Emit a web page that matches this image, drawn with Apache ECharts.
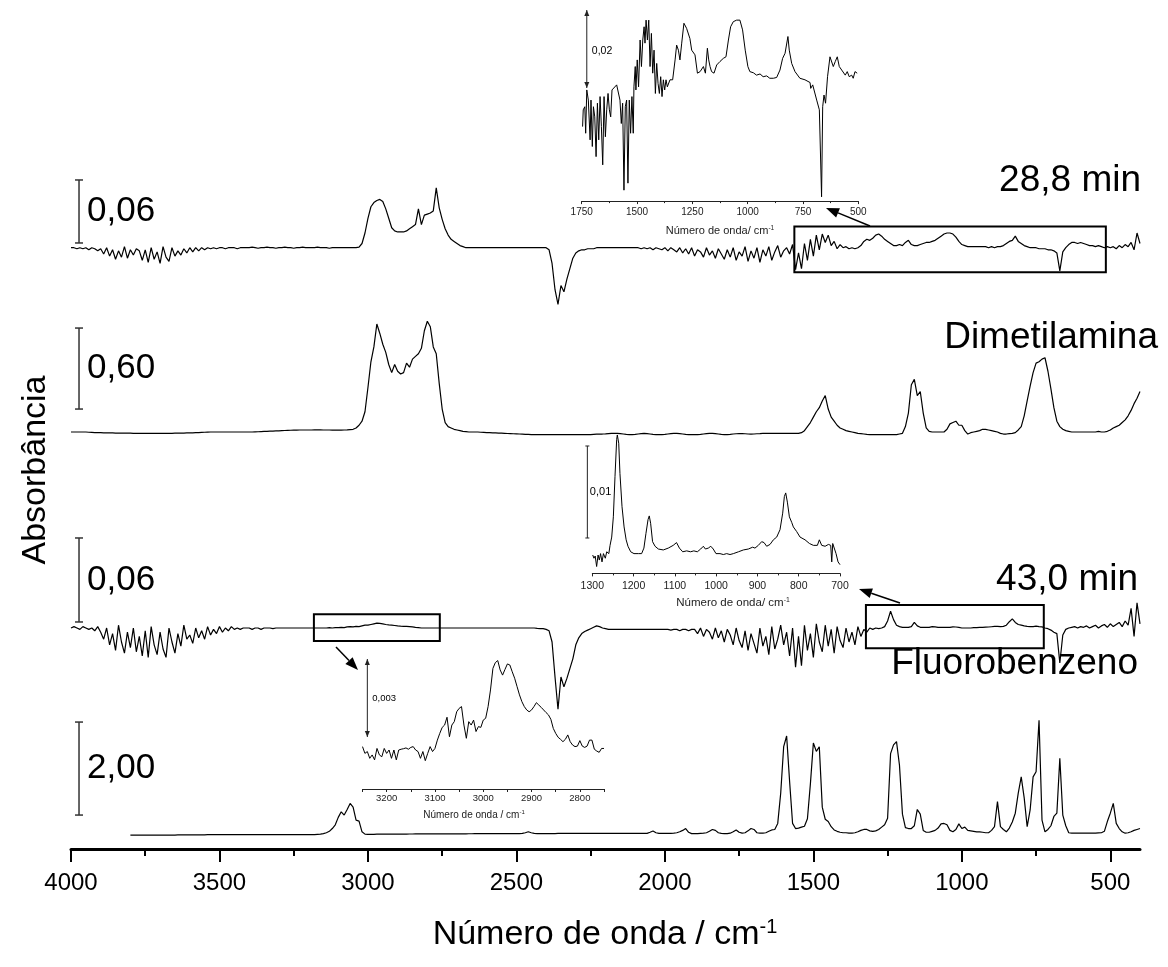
<!DOCTYPE html>
<html>
<head>
<meta charset="utf-8">
<title>FTIR - Absorbância</title>
<script src="https://cdn.jsdelivr.net/npm/echarts@6/dist/echarts.min.js"></script>
<style>
  html, body { margin: 0; padding: 0; background: #fff; }
  #chart { width: 1168px; height: 967px; }
</style>
</head>
<body>
<div id="chart"></div>
<script>
'use strict';

// Main spectra: one value every 10 cm-1, from the start wavenumber down to 400 cm-1
const STEP = 10;

// 28,8 min (units of 0.001 absorbance)
const start288 = 4000;
const abs288 = [
  0, 0, -1, 0, -1, 0, -2, 0, -1, -3,
  -1, -6, 0, -8, -2, -11, -3, -9, 1, -10,
  -2, -7, -1, -3, -12, -2, -14, 0, -11, -4,
  -15, 1, -9, -13, 0, -8, -3, -7, -1, -5,
  0, -4, 0, -3, 0, -2, 0, -1, 0, -1,
  0, 0, -1, 0, 0, 0, -1, 0, 0, 0,
  0, 0.5, 0, -0.5, 0, 0, 0.5, 0, 0, -0.5,
  0, 0, 0.5, 0, 0, -0.5, 0, 0, 0.5, 0,
  0, 0, 0, 0.5, 0, 0, 0, -0.5, 0, 0,
  0, 0, 0, 0, 0, 0, 0, 0.5, 4, 14,
  28, 39, 43, 45, 46, 44, 37, 28, 19, 16,
  15, 15, 15, 16, 18, 20, 22, 37, 22, 31,
  32, 33, 35, 57, 38, 27, 18, 12, 8, 6,
  4, 2, 1, 0, 0, 0, 0, 0, 0, 0,
  0, 0, 0, 0, 0, 0, 0, 0, 0, 0,
  0, 0, 0, 0, 0, 0, 0, 0, 0, 0,
  0, -2, -15, -40, -54, -36, -42, -30, -20, -10,
  -5, -3, -2, -2, -1, -1, -1, 0, 0, 0,
  0, 0, 0, 0, 0, 0, 0, 0, 0, 0,
  0, 0, -1, 0, -1, 0, -2, 0, -1, -2,
  0, -3, 0, -2, -4, 0, -5, -1, -6, 0,
  -8, -2, -4, -9, 0, -7, -3, -10, -1, -6,
  -11, -2, -9, 0, -12, -4, -8, 1, -13, -3,
  -10, 0, -14, -2, -8, 1, -12, -4, 2, -9,
  -3, 0, -6, 3, -21, -5, -20, 4, -12, 8,
  -8, 12, -2, 13, 5, 12, 2, 6, -1, 3,
  0, 1, -1, 0, -1, 0, 2, 6, 8, 7,
  9, 12, 13, 11, 8, 6, 4, 2, 2, 3,
  2, 5, 7, 3, 2, 2, 3, 4, 5, 5,
  6, 7, 9, 11, 13, 14, 14, 13, 10, 6,
  3, 2, 1, 1, 1, 1, 1, 1, 1, 0,
  1, 0, 1, 1, 2, 4, 6, 7, 11, 6,
  4, 2, 1, 0, 0, 0, -1, -1, -1, -2,
  -2, -3, -5, -22, -4, 0, 3, 5, 5, 4,
  5, 4, 3, 2, 2, 1, 2, 1, 0, 1,
  0, 1, -1, 2, 0, 3, 1, 5, -2, 14,
  4
];

// Dimetilamina (units of 0.01 absorbance)
const startDma = 4000;
const absDma = [
  0, 0, 0, 0, 0, 0, -0.2, -0.3, -0.4, -0.5,
  -0.5, -0.6, -0.6, -0.7, -0.7, -0.8, -0.8, -0.8, -0.9, -0.9,
  -0.9, -1, -1, -1, -1, -1, -1, -1, -1, -1,
  -1, -1, -1, -1, -1, -0.9, -0.9, -0.8, -0.8, -0.7,
  -0.7, -0.6, -0.5, -0.4, -0.3, -0.2, -0.1, 0, 0, 0,
  0, 0, 0, 0, 0, 0, 0, 0, 0, 0,
  0, 0, 0.1, 0.2, 0.3, 0.4, 0.5, 0.6, 0.7, 0.8,
  0.9, 1, 1.1, 1.2, 1.3, 1.4, 1.4, 1.5, 1.5, 1.5,
  1.5, 1.5, 1.6, 1.6, 1.6, 1.5, 1.5, 1.5, 1.4, 1.4,
  1.4, 1.4, 1.5, 1.6, 1.8, 2, 3, 5, 8, 15,
  33, 52, 63, 80, 73, 65, 59, 50, 44, 50,
  45, 43, 44, 51, 48, 54, 56, 58, 62, 75,
  82, 78, 63, 58, 36, 17, 7, 4, 3, 2,
  1.5, 1, 0.5, 0.3, 0, 0, 0, 0, -0.2, -0.3,
  -0.4, -0.5, -0.6, -0.7, -0.8, -0.9, -1, -1.1, -1.2, -1.3,
  -1.4, -1.5, -1.6, -1.7, -1.8, -1.9, -2, -2, -2, -2,
  -2, -2, -2, -2, -2, -2, -2, -2, -2, -2,
  -2, -2, -2, -2, -2, -2, -1.8, -1.6, -1.5, -1.5,
  -1.4, -1.2, -1, -1, -1, -1.2, -1.5, -1.8, -2, -2,
  -1.8, -1.5, -1.2, -1, -1.2, -1.5, -1.8, -2, -2, -2,
  -1.8, -1.5, -1.2, -1, -1, -1.2, -1.5, -1.8, -2, -2,
  -2, -2, -1.8, -1.5, -1.2, -1, -1, -1.2, -1.5, -1.8,
  -2, -2, -1.8, -1.5, -1.3, -1.2, -1.2, -1.3, -1.5, -1.6,
  -1.5, -1.3, -1.2, -1, -1, -1, -1, -1, -1, -1,
  -1, -1, -1, -1, -1, -1, -0.5, 1, 4, 7,
  11, 15, 18, 23, 27, 17, 11, 8, 5, 3,
  2, 1, 0.5, 0, -0.5, -1, -1.2, -1.5, -1.8, -2,
  -2, -2, -2, -2, -2, -2, -2, -2, -2, -1.5,
  -1, 4, 14, 35, 39, 27, 30, 14, 3, 0.5,
  0, 0, 0, 0, 0, 2, 6, 7, 8, 5,
  5, 1, -1.5, -0.5, 0, 0.5, 1, 2, 2, 1.5,
  1, 0.5, 0, -1, -1.5, -1.5, -1.2, -1, -0.5, 1.5,
  4, 12, 23, 34, 44, 51, 52, 54, 55, 45,
  32, 18, 8, 4, 2, 1, 0.5, 0, 0, 0,
  0, 0, 0, 0, 0, 0, 0.5, 0, 0, 0.5,
  1.5, 3, 4, 5, 7, 9, 12, 16, 21, 25,
  30
];

// 43,0 min (units of 0.001 absorbance)
const start430 = 4000;
const abs430 = [
  0, 1, 0, -1, 1, 0, -1, 0, -2, 1,
  -3, -8, 0, -12, -4, -16, 2, -10, -18, -3,
  -14, 0, -17, -6, -20, -2, -21, 1, -12, -19,
  -3, -15, -21, 0, -10, -18, -4, -13, 2, -8,
  -5, -11, 0, -7, -2, -8, 1, -5, -1, -4,
  1, -3, 0, -2, 1, -1, 0, -1, 0, 0,
  0, -1, 0, 0, -1, 0, 0, 0, -0.5, 0,
  0, 0, 0, 0, 0, 0, 0, 0, 0, 0,
  0, 0, 0, 0, 0, 0, 0, 0.2, 0, 0.3,
  0.3, 0.5, 0.3, 0.8, 1, 0.8, 1.2, 1, 1.5, 2,
  2, 2.5, 3, 3.5, 3.3, 3, 2.5, 2.2, 2, 1.8,
  1.5, 1.3, 1.2, 1.2, 1, 0.8, 0.5, 0.3, 0, 0,
  0, 0, 0, 0, 0, 0, 0, 0, 0, 0,
  0, 0, 0, 0, 0, 0, 0, 0, 0, 0,
  0, 0, 0, 0, 0, 0, 0, 0, 0, 0,
  0, 0, 0, 0, 0, 0, 0, -0.3, -0.5, -0.5,
  -1, -2, -10, -35, -58, -35, -42, -36, -29, -22,
  -12, -7, -4, -2.5, -1.5, -0.5, 0.5, 1.5, 1, 0,
  -0.5, -1, -1, -1, -1, -1, -1, -1, -1, -1,
  -1, -1, -1, -1, -1, -1, -1, -1, -1, -1,
  -1, -1, -1.5, -1, -1, -2, -1, -1, -2, -1,
  -1, -4, 0, -6, -1, -3, -8, 0, -7, -2,
  -10, -1, -5, -12, 0, -9, -14, -2, -16, -4,
  -11, -18, 0, -13, -6, -19, 1, -15, -8, 2,
  -12, -3, -20, 0, -28, -6, -27, 2, -16, -4,
  -21, 3, -10, -17, 2, -13, -1, -18, 1, -9,
  -14, 0, -10, -3, -12, 1, -6, -1, -3, 0,
  -1, 0, -0.5, 0, 1, 5, 12, 6, 2, 1,
  0.5, 0.5, 0.5, 1, 4, 1.5, 0.5, 0.5, 0.5, 0.5,
  1, 0.8, 0.5, 0.5, 0.5, 0.5, 0.5, 0.8, 0.7, 0.5,
  0, 0, 0, 0, 0.2, 0.3, 0.4, 0.5, 0.6, 0.7,
  0.9, 1.1, 1.1, 1, 1.2, 2, 4.5, 6.5, 4, 2.5,
  2, 1.5, 1.2, 1, 1, 1.3, 1, 0.8, 0, -0.5,
  -1.5, -3, -4, -25, -5, -1, 0, 0.5, 1, 0,
  1, 0.5, 1.5, 0, 1, 2, 0, 1.5, 2.5, 0.5,
  3, 1, 2.5, 4, 1, 5, 2, 14, -6, 18,
  3
];

// Fluorobenzeno (units of 0.01 absorbance), starts at 3800 cm-1
const startFb = 3800;
const absFb = [
  0, 0, 0, 0, 0, 0, 0, 0, 0, 0,
  0, 0, 0, 0, 0, 0, 0.3, 0.3, 0.5, 0.5,
  0.5, 0.5, 0.5, 0.5, 0.5, 0.5, 0.7, 0.7, 0.7, 0.7,
  0.8, 0.8, 0.8, 0.9, 0.9, 0.9, 1, 1, 1, 1,
  1, 1, 1, 1, 1, 1, 1, 1, 1, 1,
  1, 1, 1, 1, 1, 1, 1, 1, 1, 1,
  1, 1, 1, 1.5, 2, 3, 5, 8, 14, 22,
  38, 50, 43, 55, 68, 60, 32, 30, 7, 2,
  1.5, 1.5, 1.5, 2, 2, 2, 2, 2, 2, 2,
  2, 2, 2.2, 2.2, 2.3, 2.3, 2.4, 2.4, 2.5, 2.5,
  2.5, 2.5, 2.5, 2.5, 2.5, 2.5, 2.5, 2.5, 2.5, 2.5,
  2.6, 2.6, 2.7, 2.7, 2.8, 2.8, 2.9, 2.9, 3, 3,
  3, 3, 3, 3, 3, 3, 3, 3, 3, 3,
  3, 3, 3.5, 5, 7, 5, 3.5, 3, 3, 3,
  3, 3, 3.2, 3.2, 3.4, 3.4, 3.5, 3.5, 3.5, 3.5,
  3.6, 3.6, 3.6, 3.6, 3.6, 3.6, 3.6, 3.6, 3.6, 3.6,
  3.6, 3.6, 3.6, 3.6, 3.6, 3.6, 3.6, 3.6, 3.6, 3.6,
  3.6, 3.6, 3.6, 3.6, 3.6, 6, 8.6, 5, 3.6, 3.6,
  3.6, 3.6, 3.6, 4, 5, 7, 10, 14, 6, 3,
  3, 3, 3.5, 4, 5, 8, 12, 10, 5, 3.5,
  3, 3, 4, 7, 11, 6, 4, 5, 9, 14,
  12, 5, 4, 4, 5, 8, 11, 12, 25, 90,
  190, 213, 115, 25, 14, 15, 17, 19, 35, 110,
  198, 180, 190, 60, 34, 29, 18, 11, 8, 6,
  5, 5, 4, 4, 5, 7, 10, 12, 12, 9,
  8, 9, 12, 17, 22, 36, 175, 194, 201, 150,
  45, 16, 14, 14, 20, 55, 45, 10, 6, 6,
  8, 10, 15, 24, 25, 22, 10, 7, 12, 24,
  14, 17, 10, 9, 8, 7, 7, 6, 5, 5,
  10, 18, 72, 18, 12, 7, 15, 28, 47, 90,
  125, 80, 18, 54, 125, 136, 247, 32, 7, 12,
  20, 40, 47, 165, 43, 20, 5, 4, 4, 4,
  4, 4, 4, 4, 4, 4, 4.5, 5, 8, 29,
  47, 68, 25, 14, 7, 4, 5, 7, 10, 12,
  14
];

// Inset 28,8 min, 1750-500 cm-1: [wavenumber, 0.001 absorbance]
const inset288 = [
  [1746, -9.9], [1743, -5.6], [1736, -4.8], [1732, -11.6], [1727, -0.5], [1720, -3.1],
  [1712, -13.3], [1708, -3.1], [1702, -15.0], [1697, -4.8], [1691, -7.4], [1685, -17.6],
  [1679, -3.9], [1673, -13.3], [1667, -2.2], [1661, -9.9], [1655, -19.7], [1649, -2.2],
  [1643, -12.5], [1637, -5.6], [1631, -1.4], [1625, -5.6], [1619, -7.4], [1613, -0.5],
  [1604, -0.1], [1592, 0.8], [1583, 0.3], [1577, -3.1], [1571, -9.1], [1565, -3.9],
  [1559, -26.2], [1553, -4.8], [1547, -3.1], [1541, -24.4], [1535, -3.1], [1529, -11.6],
  [1523, -2.2], [1517, -11.6], [1514, 0.3], [1508, 5.5], [1505, -0.5], [1499, 7.2],
  [1493, 0.3], [1486, 12.3], [1480, 5.5], [1474, 12.3], [1468, 15.7], [1464, 11.5],
  [1459, 17.4], [1453, 12.3], [1447, 17.4], [1441, 5.5], [1435, 14.0], [1429, 3.8],
  [1423, 9.7], [1417, -1.4], [1411, 6.3], [1405, 1.2], [1399, -1.4], [1393, 2.9],
  [1387, -2.2], [1381, 2.1], [1375, -0.5], [1369, 2.1], [1363, 0.3], [1351, 2.1],
  [1339, 2.1], [1328, 7.2], [1321, 11.0], [1313, 9.7], [1306, 7.2], [1298, 11.5],
  [1288, 16.6], [1276, 15.3], [1261, 12.7], [1253, 9.7], [1246, 10.2], [1238, 8.5],
  [1227, 3.8], [1215, 4.2], [1200, 5.5], [1191, 3.8], [1182, 10.2], [1176, 7.2],
  [1170, 5.5], [1163, 4.2], [1152, 3.8], [1140, 5.9], [1125, 6.8], [1110, 7.6],
  [1098, 8.0], [1087, 12.3], [1077, 15.7], [1065, 17.0], [1050, 17.4], [1035, 17.4],
  [1023, 14.9], [1011, 9.7], [999, 5.5], [990, 4.2], [974, 3.9], [960, 3.3], [944, 3.6],
  [930, 2.9], [914, 3.1], [900, 2.5], [884, 2.5], [869, 2.7], [854, 4.6], [842, 7.6],
  [831, 8.9], [824, 8.9], [818, 13.2], [812, 9.7], [801, 6.3], [786, 4.2], [764, 2.5],
  [741, 2.1], [718, 1.4], [715, -0.1], [706, 0.8], [688, -3.1], [676, -5.6], [670, -5.2],
  [666, -27.9], [661, -4.8], [655, -1.8], [648, -3.9], [639, 2.9], [628, 8.0], [620, 8.5],
  [613, 5.5], [604, 6.8], [595, 8.0], [586, 5.5], [575, 4.6], [568, 4.2], [559, 3.3],
  [550, 4.2], [541, 2.9], [530, 3.3], [523, 2.5], [515, 4.2], [505, 3.8]
];

// Inset 43,0 min, 1300-700 cm-1: [wavenumber, 0.001 absorbance]
const inset430a = [
  [1299, -1.85], [1296, -2.2], [1293, -1.96], [1289.5, -3.1], [1286, -1.85], [1283, -2.4],
  [1280, -1.7], [1276.5, -2.6], [1273, -1.7], [1268.5, -2.2], [1265, -1.5], [1260, -1.7],
  [1257, -0.8], [1253, 0.1], [1249, 2.3], [1245, 6.7], [1241, 10.7], [1239.4, 11.2],
  [1236, 10.3], [1233, 7.0], [1228, 3.4], [1223, 1.2], [1218, -0.2], [1213.6, -0.9],
  [1207, -1.5], [1199, -1.7], [1188.5, -1.7], [1180.5, -1.7], [1175, -1.1], [1170, 0.5],
  [1165, 2.0], [1162, 2.4], [1158.7, 1.6], [1154, -0.4], [1148, -0.9], [1140, -1.2],
  [1128, -1.3], [1116, -1.1], [1104, -0.8], [1096, -0.5], [1089, -1.1], [1081, -1.5],
  [1071.4, -1.4], [1062, -1.5], [1054, -1.4], [1045.6, -1.5], [1037.5, -1.2], [1031, -0.9],
  [1026, -1.2], [1019, -1.1], [1013, -0.9], [1007, -1.2], [1000.4, -1.7], [990.7, -1.7],
  [982.6, -1.8], [974.5, -1.7], [966.4, -1.8], [958.3, -1.7], [946, -1.5], [934, -1.3],
  [922, -1.2], [911.5, -1.0], [906, -1.1], [897.8, -0.8], [889.7, -0.4], [884, -0.5],
  [877.6, -0.9], [869.5, -0.7], [861.4, -0.2], [853.3, 0.1], [845.3, 0.9], [838.8, 2.7],
  [834.8, 4.5], [831.5, 4.9], [827.5, 3.9], [822.6, 2.3], [817, 1.7], [813, 1.2],
  [805, 0.7], [796.8, 0.1], [784.7, -0.2], [774, -0.6], [764.5, -0.8], [754.8, -0.8],
  [750, -0.2], [744.3, -0.8], [736, -0.9], [728, -0.7], [722.5, -0.8], [720, -2.6],
  [717.6, -0.6], [714.4, -0.5], [709.6, -1.7], [704.7, -2.6], [700, -2.9]
];

// Inset 43,0 min, 3250-2750 cm-1, one value every 5 cm-1 (0.001 absorbance)
const startInsetB = 3250;
const STEP_B = 5;
const inset430b = [
  -0.37, -0.63, -0.56, -0.82, -0.69, -0.88, -0.44, -0.69, -0.76, -0.44,
  -0.63, -0.5, -0.82, -0.5, -0.88, -0.5, -0.47, -0.45, -0.42, -0.47,
  -0.40, -0.37, -0.5, -0.56, -0.82, -0.56, -0.91, -0.63, -0.37, -0.56,
  -0.44, -0.12, 0.14, 0.37, 0.46, 0.76, 0.01, 0.46, 0.59, 0.97,
  1.10, 1.17, 0.46, -0.05, 0.59, 0.46, 0.65, 0.21, 0.40, 0.37,
  0.65, 0.72, 1.17, 1.81, 2.64, 2.86, 2.94, 2.58, 2.38, 2.60,
  2.81, 2.77, 2.51, 2.26, 1.94, 1.62, 1.36, 1.17, 1.04, 0.97,
  1.04, 1.17, 1.32, 1.23, 1.14, 1.04, 0.94, 0.85, 0.68, 0.33,
  0.14, -0.01, -0.09, -0.18, -0.09, 0.08, -0.18, -0.31, -0.37, -0.35,
  -0.14, -0.35, -0.40, -0.35, -0.12, -0.12, -0.47, -0.54, -0.59, -0.44,
  -0.44
];

// axis ticks
const mainTicks = [4000, 3500, 3000, 2500, 2000, 1500, 1000, 500];
const mainMinorTicks = [3750, 3250, 2750, 2250, 1750, 1250, 750];
const insetBLabels = [3200, 3100, 3000, 2900, 2800];
const insetBTicks = [3250, 3200, 3150, 3100, 3050, 3000, 2950, 2900, 2850, 2800, 2750];

const FONT = "'Liberation Sans', Arial, Helvetica, sans-serif";
const INK = '#000';

function toPairs(startWn, step, values) {
  return values.map(function (v, i) { return [startWn - step * i, v]; });
}
function plainNumber(v) { return String(v); }

function hiddenAxis(grid, min, max, inverse) {
  return {
    type: 'value', gridIndex: grid, min: min, max: max, inverse: !!inverse,
    axisLine: { show: false, onZero: false }, axisTick: { show: false },
    axisLabel: { show: false }, splitLine: { show: false }
  };
}

function insetXAxis(grid, min, max, fontSize, margin, extra) {
  const ax = {
    type: 'value', gridIndex: grid, min: min, max: max, inverse: true,
    axisLine: { onZero: false, lineStyle: { color: '#222', width: 1 } },
    axisTick: { length: 3, lineStyle: { color: '#222', width: 1 } },
    axisLabel: { fontSize: fontSize, fontFamily: FONT, color: '#222', margin: margin, formatter: plainNumber },
    splitLine: { show: false }
  };
  return Object.assign(ax, extra || {});
}

function spectrum(data, xIdx, width) {
  return {
    type: 'line', data: data, xAxisIndex: xIdx, yAxisIndex: xIdx < 4 ? xIdx : xIdx - 1,
    showSymbol: false, symbol: 'none', silent: true, animation: false,
    lineStyle: { color: INK, width: width }
  };
}

function boxArea(x0, y0, x1, y1) {
  return [{ coord: [x0, y0] }, { coord: [x1, y1] }];
}

const chart = echarts.init(document.getElementById('chart'), null, { renderer: 'canvas' });

const s288 = spectrum(toPairs(start288, STEP, abs288), 0, 1.2);
s288.markArea = {
  silent: true,
  itemStyle: { color: 'rgba(0,0,0,0)', borderColor: INK, borderWidth: 2 },
  data: [boxArea(1564, 20.3, 515, -23.4)]
};
const sDma = spectrum(toPairs(startDma, STEP, absDma), 1, 1.2);
const s430 = spectrum(toPairs(start430, STEP, abs430), 2, 1.2);
s430.markArea = {
  silent: true,
  itemStyle: { color: 'rgba(0,0,0,0)', borderColor: INK, borderWidth: 2 },
  data: [boxArea(1323, 16.4, 724, -14.5), boxArea(3182, 9.8, 2758, -9.3)]
};
const sFb = spectrum(toPairs(startFb, STEP, absFb), 3, 1.2);
const sIn1 = spectrum(inset288, 5, 1);
const sIn2 = spectrum(inset430a, 6, 1);
const sIn3 = spectrum(toPairs(startInsetB, STEP_B, inset430b), 7, 1);

const option = {
  animation: false,
  backgroundColor: '#fff',
  grid: [
    { left: 71, right: 28, top: 163.7, height: 147 },      // 28,8 min
    { left: 71, right: 28, top: 310.5, height: 128.25 },   // Dimetilamina
    { left: 71, right: 28, top: 530, height: 189 },        // 43,0 min
    { left: 71, right: 28, top: 709.5, height: 139.5 },    // Fluorobenzeno + main axis
    { left: 581.7, width: 276.6, top: 6.1, height: 195 },  // inset 1750-500
    { left: 592.3, width: 247.7, top: 427.6, height: 145.8 }, // inset 1300-700
    { left: 362.5, width: 241.5, top: 648.6, height: 140.4 }  // inset 3250-2750
  ],
  xAxis: [
    hiddenAxis(0, 400, 4000, true),
    hiddenAxis(1, 400, 4000, true),
    hiddenAxis(2, 400, 4000, true),
    {
      type: 'value', gridIndex: 3, min: 400, max: 4000, inverse: true,
      axisLine: { onZero: false, lineStyle: { color: INK, width: 3 } },
      axisTick: { customValues: mainTicks, length: 13, lineStyle: { color: INK, width: 2 } },
      axisLabel: { customValues: mainTicks, fontSize: 24, fontFamily: FONT, color: INK, margin: 22, formatter: plainNumber },
      splitLine: { show: false }
    },
    {
      // minor ticks of the main axis
      type: 'value', gridIndex: 3, min: 400, max: 4000, inverse: true, position: 'bottom',
      axisLine: { show: false, onZero: false },
      axisTick: { customValues: mainMinorTicks, length: 7, lineStyle: { color: INK, width: 2 } },
      axisLabel: { show: false }, splitLine: { show: false }
    },
    insetXAxis(4, 500, 1750, 10, 6, { interval: 250, minorTick: { show: true, splitNumber: 2, length: 2, lineStyle: { color: '#222' } } }),
    insetXAxis(5, 700, 1300, 10.5, 7, { interval: 100, minorTick: { show: true, splitNumber: 2, length: 2, lineStyle: { color: '#222' } } }),
    insetXAxis(6, 2750, 3250, 9.5, 4, {
      axisTick: { customValues: insetBTicks, length: 3, lineStyle: { color: '#222', width: 1 } },
      axisLabel: { customValues: insetBLabels, fontSize: 9.5, fontFamily: FONT, color: '#222', margin: 4, formatter: plainNumber }
    })
  ],
  yAxis: [
    hiddenAxis(0, -60, 80),
    hiddenAxis(1, -5, 90),
    hiddenAxis(2, -65, 70),
    hiddenAxis(3, -30, 270),
    hiddenAxis(4, -29, 21),
    hiddenAxis(5, -3.85, 12),
    hiddenAxis(6, -2, 3.4)
  ],
  series: [s288, sDma, s430, sFb, sIn1, sIn2, sIn3]
};

chart.setOption(option);

// ---- annotations: scale bars, arrows and texts ----
function px(grid, x, y) { return chart.convertToPixel({ gridIndex: grid }, [x, y]); }

function arrowHead(tip, from, len, half) {
  const dx = tip[0] - from[0], dy = tip[1] - from[1];
  const d = Math.hypot(dx, dy);
  const ux = dx / d, uy = dy / d;
  const bx = tip[0] - ux * len, by = tip[1] - uy * len;
  return [[tip[0], tip[1]], [bx - uy * half, by + ux * half], [bx + uy * half, by - ux * half]];
}

const graphics = [];

function line(p0, p1, color, width) {
  graphics.push({ type: 'line', silent: true, z: 50,
    shape: { x1: p0[0], y1: p0[1], x2: p1[0], y2: p1[1] },
    style: { stroke: color, lineWidth: width } });
}
function head(tip, from, len, half, color) {
  graphics.push({ type: 'polygon', silent: true, z: 50,
    shape: { points: arrowHead(tip, from, len, half) }, style: { fill: color } });
}
function text(str, x, y, size, align, extra) {
  graphics.push(Object.assign({ type: 'text', silent: true, z: 60, x: x, y: y,
    style: { text: str, fontSize: size, fontFamily: FONT, fill: INK, align: align, verticalAlign: 'middle' } }, extra || {}));
}

// scale bars for the stacked spectra (bar values in each spectrum's units)
const scaleBars = [
  { grid: 0, x: 3973, from: 4.5, to: 64.5, label: '0,06' },
  { grid: 1, x: 3973, from: 17, to: 77, label: '0,60' },
  { grid: 2, x: 3973, from: 4.3, to: 64.3, label: '0,06' },
  { grid: 3, x: 3973, from: 43, to: 243, label: '2,00' }
];
scaleBars.forEach(function (b) {
  const p0 = px(b.grid, b.x, b.from), p1 = px(b.grid, b.x, b.to);
  line(p0, p1, '#333', 1.5);
  line([p0[0] - 4, p0[1]], [p0[0] + 4, p0[1]], '#333', 1.5);
  line([p1[0] - 4, p1[1]], [p1[0] + 4, p1[1]], '#333', 1.5);
  text(b.label, p0[0] + 8, (p0[1] + p1[1]) / 2, 35, 'left');
});

// inset scale markers
(function () {
  // 0,02 double arrow
  let a = px(4, 1727, 0), b = px(4, 1727, 20);
  line(a, b, '#222', 1);
  head(b, a, 6, 2.5, '#222'); head(a, b, 6, 2.5, '#222');
  text('0,02', a[0] + 5, (a[1] + b[1]) / 2 + 2, 10.5, 'left');
  // 0,01 bar
  a = px(5, 1312, 0); b = px(5, 1312, 10);
  line(a, b, '#222', 1);
  line([a[0] - 2, a[1]], [a[0] + 2, a[1]], '#222', 1);
  line([b[0] - 2, b[1]], [b[0] + 2, b[1]], '#222', 1);
  text('0,01', a[0] + 2.5, (a[1] + b[1]) / 2, 11, 'left');
  // 0,003 double arrow
  a = px(6, 3240, 0); b = px(6, 3240, 3);
  line(a, b, '#222', 1);
  head(b, a, 6, 2.5, '#222'); head(a, b, 6, 2.5, '#222');
  text('0,003', a[0] + 5, (a[1] + b[1]) / 2, 9.5, 'left');
})();

// arrows from the boxes to their insets (pixel anchors)
const boxArrows = [
  { from: [870, 226], tip: [826, 208] },
  { from: [900, 603], tip: [859, 589] },
  { from: [336, 647], tip: [358, 670] }
];
boxArrows.forEach(function (a) {
  const h = arrowHead(a.tip, a.from, 13, 5);
  const base = [(h[1][0] + h[2][0]) / 2, (h[1][1] + h[2][1]) / 2];
  line(a.from, base, INK, 1.5);
  head(a.tip, a.from, 13, 5, INK);
});

// spectrum names
text('28,8 min', 1141, 181, 37, 'right');
text('Dimetilamina', 1158, 338, 37, 'right');
text('43,0 min', 1138, 580, 37, 'right');
text('Fluorobenzeno', 1138, 664, 37, 'right');

// inset axis titles
function unitTitle(base, x, y, size) {
  graphics.push({ type: 'text', silent: true, z: 60, x: x, y: y,
    style: {
      text: '{a|' + base + '}{b|-1}', align: 'center', verticalAlign: 'middle', fill: '#222',
      rich: {
        a: { fontSize: size, fontFamily: FONT, fill: '#222' },
        b: { fontSize: size * 0.6, fontFamily: FONT, fill: '#222', verticalAlign: 'top', padding: [0, 0, size * 0.5, 0] }
      }
    } });
}
unitTitle('Número de onda/ cm', 720, 231, 11);
unitTitle('Número de onda/ cm', 733, 603, 11.5);
unitTitle('Número de onda / cm', 474, 815, 10);

// main axis titles
graphics.push({ type: 'text', silent: true, z: 60, x: 605, y: 935,
  style: {
    text: '{a|Número de onda / cm}{b|-1}', align: 'center', verticalAlign: 'middle', fill: INK,
    rich: {
      a: { fontSize: 34, fontFamily: FONT, fill: INK },
      b: { fontSize: 20, fontFamily: FONT, fill: INK, verticalAlign: 'top', padding: [0, 0, 16, 0] }
    }
  } });
graphics.push({ type: 'text', silent: true, z: 60, x: 36, y: 470, rotation: Math.PI / 2,
  style: { text: 'Absorbância', fontSize: 34, fontFamily: FONT, fill: INK, align: 'center', verticalAlign: 'middle' } });

chart.setOption({ graphic: graphics });
</script>
</body>
</html>
